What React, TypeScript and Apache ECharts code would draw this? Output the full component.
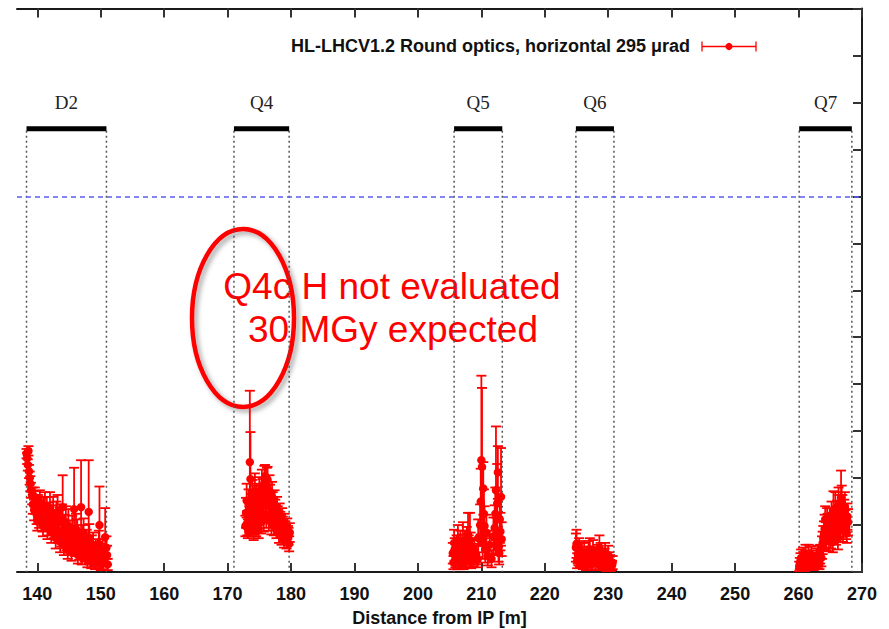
import React, { useEffect, useRef } from "react";
import * as echarts from "echarts";

// Beam-line elements: name, start and end position [m]
const MAGNET_NAMES = ["D2", "Q4", "Q5", "Q6", "Q7"];
const MAGNET_START = [138.3, 171.0, 205.7, 224.9, 260.1];
const MAGNET_END = [150.9, 179.7, 213.3, 230.9, 268.4];

// Dose profiles per element: [distance m, dose, error]
const D2_POINTS = [
  [138.3, 12.6, 0.5], [138.4, 12.1, 0.6], [138.5, 11.4, 0.6], [138.6, 12.9, 0.5],
  [138.7, 10.7, 0.7], [138.8, 10.0, 0.7], [138.9, 9.4, 0.8], [139.0, 8.7, 0.8],
  [139.2, 8.1, 0.9], [139.3, 7.2, 1.0], [139.5, 6.6, 1.1], [139.7, 7.4, 1.2],
  [139.9, 6.1, 1.0], [140.1, 6.9, 1.3], [140.3, 5.8, 1.1], [140.6, 6.5, 1.4],
  [140.8, 5.5, 1.2], [141.0, 6.7, 1.3], [141.3, 5.9, 1.4], [141.5, 6.4, 1.6],
  [141.8, 5.2, 1.3], [142.0, 6.8, 1.7], [142.3, 5.6, 1.5], [142.5, 6.2, 1.8],
  [142.8, 4.9, 1.4], [143.0, 5.8, 1.7], [143.3, 4.4, 1.3], [143.5, 5.3, 1.6],
  [143.8, 3.9, 1.2], [144.0, 6.9, 3.4], [144.3, 4.6, 1.5], [144.6, 3.6, 1.3],
  [144.9, 4.9, 1.8], [145.2, 3.2, 1.2], [145.5, 4.4, 1.6], [145.8, 6.7, 4.4],
  [146.0, 2.8, 1.1], [146.3, 3.9, 1.7], [146.6, 2.5, 1.2], [146.9, 6.9, 5.0],
  [147.2, 3.4, 1.6], [147.5, 2.1, 1.0], [147.8, 3.0, 1.5], [148.1, 6.4, 5.5],
  [148.3, 1.8, 1.0], [148.6, 2.6, 1.3], [148.9, 1.5, 0.9], [149.2, 2.3, 1.2],
  [149.5, 1.2, 0.8], [149.8, 5.0, 4.1], [150.1, 1.9, 1.1], [150.4, 1.0, 0.7],
  [150.7, 3.7, 3.1], [150.9, 2.6, 1.2], [151.1, 0.8, 0.6],
  [139.6, 8.0, 1.0], [140.0, 5.4, 1.0], [140.4, 7.4, 1.3], [140.9, 4.9, 1.1],
  [141.2, 7.0, 1.5], [141.6, 4.7, 1.2], [141.9, 6.0, 1.4], [142.2, 4.3, 1.2],
  [142.6, 5.1, 1.5], [142.9, 3.6, 1.1], [143.2, 6.4, 1.8], [143.6, 3.2, 1.1],
  [143.9, 5.6, 1.6], [144.2, 2.8, 1.0], [144.5, 5.3, 1.7], [144.8, 2.4, 1.0],
  [145.1, 4.0, 1.5], [145.4, 2.1, 0.9], [145.7, 3.5, 1.4], [146.1, 4.6, 1.6],
  [146.4, 1.8, 0.9], [146.7, 3.2, 1.3], [147.0, 1.6, 0.8], [147.3, 4.1, 1.6],
  [147.6, 2.7, 1.2], [147.9, 1.3, 0.8], [148.2, 3.6, 1.5], [148.5, 1.1, 0.7],
  [148.8, 2.9, 1.3], [149.1, 0.9, 0.6], [149.4, 2.0, 1.0], [149.7, 3.0, 1.4],
  [150.0, 0.8, 0.6], [150.3, 2.4, 1.1], [150.6, 1.5, 0.9], [151.0, 1.8, 1.0],
];

const Q4_POINTS = [
  [172.9, 6.3, 1.6], [173.1, 5.2, 1.3], [173.3, 7.0, 1.8], [173.4, 5.8, 1.5],
  [173.5, 11.7, 7.6], [173.6, 9.9, 5.0], [173.8, 6.6, 1.7], [174.0, 5.4, 1.4],
  [174.2, 7.4, 1.8], [174.4, 6.1, 1.5], [174.6, 7.8, 1.6], [174.8, 5.7, 1.4],
  [175.0, 8.3, 1.8], [175.2, 6.8, 1.6], [175.4, 9.0, 1.9], [175.6, 7.5, 1.6],
  [175.8, 9.5, 1.8], [176.0, 8.1, 1.7], [176.2, 9.2, 1.9], [176.4, 7.2, 1.5],
  [176.6, 8.6, 1.7], [176.8, 6.9, 1.6], [177.0, 8.0, 1.6], [177.2, 6.4, 1.4],
  [177.4, 7.2, 1.5], [177.6, 5.8, 1.3], [177.8, 6.6, 1.4], [178.0, 5.3, 1.2],
  [178.2, 6.0, 1.3], [178.4, 4.9, 1.2], [178.6, 5.5, 1.3], [178.8, 4.4, 1.1],
  [179.0, 5.0, 1.2], [179.2, 4.0, 1.0], [179.4, 4.6, 1.1], [179.6, 3.8, 0.9],
  [179.8, 4.2, 1.0],
  [172.8, 4.9, 1.1], [173.0, 7.6, 1.8], [173.2, 4.6, 1.0], [173.7, 4.8, 1.0],
  [173.9, 7.9, 1.9], [174.1, 4.4, 1.0], [174.3, 8.6, 1.9], [174.5, 4.9, 1.1],
  [174.7, 6.7, 1.6], [174.9, 4.6, 1.0], [175.1, 7.1, 1.7], [175.3, 5.3, 1.2],
  [175.5, 8.1, 1.8], [175.7, 5.6, 1.3], [175.9, 10.2, 1.2], [176.1, 6.1, 1.4],
  [176.3, 9.8, 1.4], [176.5, 5.6, 1.2], [176.7, 7.7, 1.6], [176.9, 5.2, 1.2],
  [177.1, 7.0, 1.5], [177.3, 5.0, 1.1], [177.5, 6.3, 1.4], [177.7, 4.6, 1.0],
  [177.9, 5.7, 1.3], [178.1, 4.1, 1.0], [178.3, 5.2, 1.2], [178.5, 3.8, 0.9],
  [178.7, 4.8, 1.1], [178.9, 3.5, 0.9], [179.1, 4.4, 1.0], [179.3, 3.3, 0.8],
  [179.5, 3.9, 1.0], [179.7, 3.0, 0.8],
];

const Q5_POINTS = [
  [205.5, 2.0, 1.1], [205.7, 3.1, 1.4], [205.9, 1.4, 0.9], [206.1, 2.6, 1.3],
  [206.3, 3.4, 1.6], [206.5, 1.8, 1.0], [206.7, 2.9, 1.5], [206.9, 1.2, 0.8],
  [207.1, 3.3, 2.0], [207.3, 2.2, 1.2], [207.5, 1.6, 1.0], [207.7, 3.0, 1.8],
  [207.9, 4.0, 2.3], [208.1, 1.9, 1.1], [208.3, 2.7, 1.5], [208.6, 1.5, 0.9],
  [208.9, 2.3, 1.3], [209.2, 1.8, 1.0], [209.5, 3.6, 2.0], [209.8, 5.0, 2.2],
  [209.9, 7.5, 3.5], [210.0, 11.9, 9.0], [210.1, 11.2, 8.4], [210.2, 3.2, 1.8],
  [210.4, 6.2, 2.6], [210.6, 2.4, 1.4], [210.8, 4.2, 1.9], [211.0, 1.7, 1.0],
  [211.3, 2.9, 1.5], [211.6, 1.4, 0.9], [211.9, 3.8, 2.0], [212.1, 4.7, 2.4],
  [212.3, 8.7, 6.8], [212.5, 7.3, 4.2], [212.7, 2.7, 1.6], [212.9, 5.6, 2.5],
  [213.1, 8.0, 5.2], [213.2, 3.5, 1.8],
  [205.6, 1.0, 0.7], [205.8, 2.4, 1.2], [206.0, 1.7, 0.9], [206.2, 1.1, 0.8],
  [206.4, 2.2, 1.2], [206.6, 0.9, 0.6], [206.8, 1.9, 1.1], [207.0, 2.6, 1.4],
  [207.2, 1.0, 0.7], [207.4, 2.8, 1.6], [207.6, 1.3, 0.8], [208.0, 2.5, 1.4],
  [208.2, 3.4, 2.9], [208.4, 1.2, 0.8], [208.8, 1.9, 1.1], [209.4, 1.3, 0.8],
  [210.3, 8.9, 2.8], [210.5, 4.9, 2.1], [212.2, 6.2, 2.8], [212.4, 3.9, 1.9],
  [212.6, 10.6, 2.8], [212.8, 2.0, 1.2], [213.0, 4.3, 2.0],
];

const Q6_POINTS = [
  [224.9, 2.6, 1.5], [225.0, 3.0, 1.5], [225.2, 1.9, 1.0], [225.4, 2.4, 1.2],
  [225.6, 1.3, 0.8], [225.8, 2.0, 1.1], [226.0, 0.9, 0.6], [226.3, 1.7, 1.0],
  [226.6, 1.1, 0.8], [226.9, 2.1, 1.2], [227.1, 2.4, 1.2], [227.4, 0.8, 0.6],
  [227.7, 1.5, 0.9], [228.0, 1.0, 0.7], [228.3, 1.8, 1.1], [228.6, 2.6, 1.3],
  [228.9, 0.7, 0.5], [229.2, 1.4, 0.9], [229.5, 2.0, 1.1], [229.8, 0.9, 0.6],
  [230.1, 1.3, 0.8], [230.4, 0.6, 0.5], [230.7, 1.0, 0.7],
  [225.1, 1.2, 0.8], [225.3, 1.6, 0.9], [225.5, 2.2, 1.1], [225.9, 1.5, 0.9],
  [226.2, 2.0, 1.1], [226.5, 0.6, 0.4], [226.8, 1.4, 0.9], [227.2, 1.7, 1.0],
  [227.6, 2.3, 1.1], [228.1, 1.4, 0.8], [228.5, 0.8, 0.6], [228.8, 2.0, 1.1],
  [229.1, 1.0, 0.6], [229.4, 1.6, 0.9], [229.7, 0.5, 0.4], [230.0, 1.8, 1.0],
  [230.3, 1.1, 0.7], [230.6, 0.7, 0.5],
];

const Q7_POINTS = [
  [260.1, 0.6, 0.5], [260.3, 1.2, 0.8], [260.5, 0.4, 0.4], [260.7, 1.6, 1.0],
  [260.9, 0.9, 0.7], [261.1, 1.9, 1.0], [261.3, 1.1, 0.8], [261.6, 1.7, 1.2],
  [261.9, 0.8, 0.6], [262.2, 1.4, 0.9], [262.5, 1.0, 0.7], [262.8, 1.6, 0.9],
  [263.1, 1.2, 0.8], [263.4, 1.9, 1.0], [263.7, 2.6, 1.2], [263.9, 3.6, 1.3],
  [264.1, 4.6, 1.5], [264.3, 3.9, 1.4], [264.5, 5.2, 1.6], [264.7, 4.3, 1.3],
  [264.9, 5.5, 1.3], [265.1, 3.7, 1.2], [265.3, 4.9, 1.4], [265.5, 6.4, 2.2],
  [265.7, 5.3, 1.5], [265.9, 4.2, 1.3], [266.1, 6.0, 1.6], [266.3, 7.2, 1.8],
  [266.5, 5.1, 1.4], [266.7, 7.9, 2.9], [266.9, 6.5, 1.7], [267.1, 5.6, 1.5],
  [267.3, 6.9, 1.6], [267.5, 4.8, 1.3], [267.7, 5.9, 1.4],
  [260.2, 0.9, 0.6], [260.4, 1.5, 0.9], [260.6, 0.7, 0.5], [260.8, 1.3, 0.8],
  [261.0, 0.5, 0.4], [261.2, 1.4, 0.9], [261.5, 0.9, 0.6], [261.8, 1.3, 0.8],
  [262.0, 1.8, 0.9], [262.4, 0.7, 0.5], [262.7, 1.2, 0.8], [263.0, 1.8, 1.0],
  [263.3, 0.9, 0.6], [263.6, 1.5, 0.9], [263.8, 3.1, 1.2], [264.0, 4.0, 1.4],
  [264.2, 5.6, 1.4], [264.4, 3.4, 1.1], [264.6, 4.8, 1.4], [264.8, 3.3, 1.1],
  [265.0, 4.4, 1.2], [265.2, 6.0, 1.5], [265.4, 3.2, 1.1], [265.6, 4.6, 1.3],
  [265.8, 6.8, 1.7], [266.0, 4.9, 1.4], [266.2, 3.6, 1.2], [266.4, 6.6, 1.6],
  [266.6, 4.5, 1.3], [266.8, 7.4, 1.8], [267.0, 4.4, 1.2], [267.2, 6.2, 1.5],
  [267.4, 5.2, 1.4], [267.6, 4.2, 1.1], [267.8, 5.3, 1.4],
];

const DISTANCE_TICKS = [140, 150, 160, 170, 180, 190, 200, 210, 220, 230, 240, 250, 260, 270];
const X_MIN = 136.8;
const X_MAX = 270;
const DOSE_MAX = 60;
const DOSE_LIMIT = 40;
const MAGNET_BAR_LEVEL = 47.2;
const MAGNET_LABEL_LEVEL = 50;

const LEGEND_TEXT = "HL-LHCV1.2 Round optics, horizontal 295 \u03bcrad";
const NOTE_LINE_1 = "Q4c H not evaluated";
const NOTE_LINE_2 = "30 MGy expected";

const RED = "#ff0000";
const AXIS_COLOR = "#1a1a1a";
const SANS = "'Liberation Sans', Arial, Helvetica, sans-serif";
const SERIF = "'Liberation Serif', 'Times New Roman', serif";

export default function App() {
  const ref = useRef<HTMLDivElement>(null);

  useEffect(() => {
    if (!ref.current) return;
    const chart = echarts.init(ref.current, null, { renderer: "svg" });

    const points = [...D2_POINTS, ...Q4_POINTS, ...Q5_POINTS, ...Q6_POINTS, ...Q7_POINTS];
    const magnets = MAGNET_NAMES.map((_, i) => [MAGNET_START[i], MAGNET_END[i], i]);

    const xAxisBase = {
      type: "value",
      min: X_MIN,
      max: X_MAX,
      splitLine: { show: false },
      axisLine: { show: true, onZero: false, lineStyle: { color: AXIS_COLOR, width: 2 } },
      axisTick: {
        show: true,
        inside: true,
        length: 9,
        customValues: DISTANCE_TICKS,
        lineStyle: { color: "#333", width: 2 },
      },
    };

    const option: any = {
      animation: false,
      backgroundColor: "#ffffff",
      grid: {
        left: 17,
        right: 27,
        top: 8.5,
        bottom: 57,
        containLabel: false,
        outerBoundsMode: "none",
      },
      xAxis: [
        {
          ...xAxisBase,
          position: "bottom",
          name: "Distance from IP [m]",
          nameLocation: "middle",
          nameGap: 37,
          nameTextStyle: { fontFamily: SANS, fontWeight: "bold", fontSize: 18, color: "#111" },
          axisLabel: {
            show: true,
            customValues: DISTANCE_TICKS,
            margin: 13,
            fontFamily: SANS,
            fontWeight: "bold",
            fontSize: 18,
            color: "#111",
          },
        },
        {
          ...xAxisBase,
          position: "top",
          axisLabel: { show: false },
        },
      ],
      yAxis: {
        type: "value",
        position: "right",
        min: 0,
        max: DOSE_MAX,
        interval: 5,
        splitLine: { show: false },
        axisLabel: { show: false },
        axisLine: { show: true, lineStyle: { color: AXIS_COLOR, width: 2 } },
        axisTick: { show: true, inside: true, length: 9, lineStyle: { color: "#333", width: 2 } },
      },
      series: [
        {
          type: "custom",
          name: "magnets",
          xAxisIndex: 0,
          yAxisIndex: 0,
          silent: true,
          clip: false,
          data: magnets,
          encode: { x: [0, 1] },
          renderItem: (_params: any, api: any) => {
            const s = api.value(0);
            const e = api.value(1);
            const idx = api.value(2);
            const a = api.coord([s, MAGNET_BAR_LEVEL]);
            const b = api.coord([e, MAGNET_BAR_LEVEL]);
            const a0 = api.coord([s, 0]);
            const lbl = api.coord([(s + e) / 2, MAGNET_LABEL_LEVEL]);
            const dotted = { stroke: "#555", lineWidth: 1.5, lineDash: [2, 3] };
            return {
              type: "group",
              children: [
                { type: "line", shape: { x1: a[0], y1: a[1] + 2, x2: a0[0], y2: a0[1] }, style: dotted },
                { type: "line", shape: { x1: b[0], y1: b[1] + 2, x2: b[0], y2: a0[1] }, style: dotted },
                {
                  type: "rect",
                  shape: { x: a[0], y: a[1] - 2.5, width: b[0] - a[0], height: 5 },
                  style: { fill: "#000" },
                },
                {
                  type: "text",
                  x: lbl[0],
                  y: lbl[1],
                  style: {
                    text: MAGNET_NAMES[idx],
                    fill: "#222",
                    font: `19px ${SERIF}`,
                    align: "center",
                    verticalAlign: "middle",
                  },
                },
              ],
            };
          },
          markLine: {
            silent: true,
            symbol: "none",
            label: { show: false },
            lineStyle: { color: "#5c5cf5", width: 1.5, type: [5, 4] },
            data: [{ yAxis: DOSE_LIMIT }],
          },
        },
        {
          type: "custom",
          name: "dose",
          xAxisIndex: 0,
          yAxisIndex: 0,
          clip: true,
          data: points,
          encode: { x: 0, y: 1 },
          renderItem: (_params: any, api: any) => {
            const x = api.value(0);
            const y = api.value(1);
            const err = api.value(2);
            const lowVal = y - err;
            const c = api.coord([x, y]);
            const hi = api.coord([x, y + err]);
            const lo = api.coord([x, Math.max(0, lowVal)]);
            const cap = 5;
            const st = { stroke: RED, lineWidth: 1.8 };
            const children: any[] = [
              { type: "line", shape: { x1: c[0], y1: hi[1], x2: c[0], y2: lo[1] }, style: st },
              { type: "line", shape: { x1: c[0] - cap, y1: hi[1], x2: c[0] + cap, y2: hi[1] }, style: st },
            ];
            if (lowVal > 0) {
              children.push({
                type: "line",
                shape: { x1: c[0] - cap, y1: lo[1], x2: c[0] + cap, y2: lo[1] },
                style: st,
              });
            }
            children.push({ type: "circle", shape: { cx: c[0], cy: c[1], r: 4.2 }, style: { fill: RED } });
            return { type: "group", children };
          },
        },
      ],
      graphic: [
        // key entry
        {
          type: "text",
          x: 690,
          y: 46,
          style: {
            text: LEGEND_TEXT,
            font: `bold 18px ${SANS}`,
            fill: "#111",
            align: "right",
            verticalAlign: "middle",
          },
        },
        { type: "line", shape: { x1: 702, y1: 46.5, x2: 756, y2: 46.5 }, style: { stroke: RED, lineWidth: 1.3 } },
        { type: "line", shape: { x1: 702, y1: 41.5, x2: 702, y2: 51.5 }, style: { stroke: RED, lineWidth: 1.3 } },
        { type: "line", shape: { x1: 756, y1: 41.5, x2: 756, y2: 51.5 }, style: { stroke: RED, lineWidth: 1.3 } },
        { type: "circle", shape: { cx: 729, cy: 46.5, r: 3.6 }, style: { fill: RED } },
        // annotation
        {
          type: "ellipse",
          shape: { cx: 243, cy: 318, rx: 51, ry: 89 },
          style: {
            fill: "none",
            stroke: RED,
            lineWidth: 4.5,
            shadowBlur: 5,
            shadowOffsetX: 3,
            shadowOffsetY: 3,
            shadowColor: "rgba(0,0,0,0.35)",
          },
        },
        {
          type: "text",
          x: 392,
          y: 286,
          style: {
            text: NOTE_LINE_1,
            font: `37px ${SANS}`,
            fill: RED,
            align: "center",
            verticalAlign: "middle",
          },
        },
        {
          type: "text",
          x: 393,
          y: 329,
          style: {
            text: NOTE_LINE_2,
            font: `37px ${SANS}`,
            fill: RED,
            align: "center",
            verticalAlign: "middle",
          },
        },
      ],
    };

    chart.setOption(option);
    return () => chart.dispose();
  }, []);

  return (
    <div
      ref={ref}
      style={{ position: "fixed", left: 0, top: 0, width: 889, height: 629, background: "#fff" }}
    />
  );
}
